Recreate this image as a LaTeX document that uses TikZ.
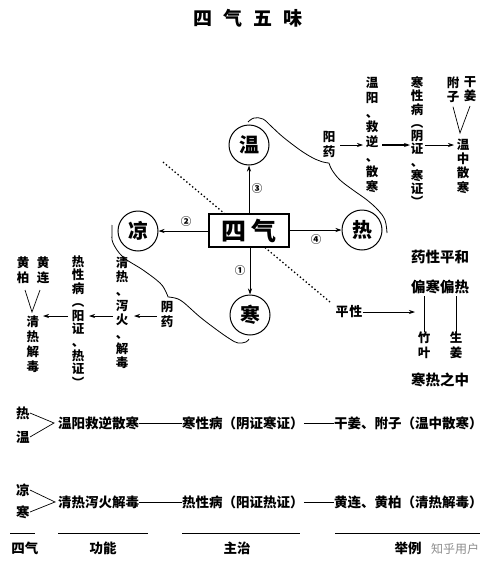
\documentclass[tikz,border=0pt]{standalone}
\usepackage{fontspec}
\newfontfamily\cjk{Noto Sans CJK SC}
\usetikzlibrary{arrows.meta,calc}
\newcommand\colf[1]{\cjk\bfseries\fontsize{12.5pt}{#1pt}\selectfont}
\tikzset{
  col/.style={inner sep=0pt, anchor=north, align=center},
  circ/.style={circle, draw, line width=1pt, minimum size=40pt, inner sep=0pt, font=\cjk\bfseries\fontsize{20pt}{20pt}\selectfont},
  arr/.style={line width=0.7pt, -{Stealth[length=6pt,width=4pt]}},
  lbl/.style={inner sep=0pt, font=\cjk\bfseries\fontsize{13.5pt}{14pt}\selectfont},
  num/.style={inner sep=0pt, font=\cjk\bfseries\fontsize{10.5pt}{10.5pt}\selectfont},
  ln/.style={line width=0.7pt},
  rule/.style={line width=1pt}
}
\begin{document}
\begin{tikzpicture}[x=1pt,y=-1pt]
\useasboundingbox (0,0) rectangle (500,573);
% title
\node[inner sep=0pt, font=\cjk\bfseries\fontsize{19pt}{19pt}\selectfont] (title) at (248,18) {四\hspace{11pt}气\hspace{11pt}五\hspace{11pt}味};
% dotted line behind box
\coordinate (d1) at (163,162);
\coordinate (d2) at (330,302);
\draw[line width=1.3pt, dash pattern=on 1.4pt off 2.4pt] (d1) -- (d2);
% central box
\node[draw, fill=white, line width=1.2pt, minimum width=80pt, minimum height=33pt, inner sep=0pt, font=\cjk\bfseries\fontsize{25pt}{25pt}\selectfont] (siqi) at (249,230.5) {四\hspace{5pt}气};
% circles
\node[circ] (wen) at (249,145) {温};
\node[circ] (liang) at (138,231) {凉};
\node[circ] (re) at (362,230) {热};
\node[circ] (han) at (250,315) {寒};
\draw[arr] (siqi.north -| wen) -- (wen.south);
\draw[arr] (siqi.west |- liang) -- (liang.east);
\draw[arr] (siqi.east |- re) -- (re.west);
\draw[arr] (siqi.south -| han) -- (han.north);
\node[num] (n3) at (257,189) {③};
\node[num] (n2) at (186,222) {②};
\node[num] (n4) at (316,240) {④};
\node[num] (n1) at (240,271) {①};
% upper brace curve
\draw[line width=0.8pt] plot[smooth, tension=0.6] coordinates {(248,122) (254,118) (263,119) (272,127) (283,137) (300,150) (313,158) (323,162) (329,163)}
  plot[smooth, tension=0.6] coordinates {(329,163) (332,170) (340,180) (353,190) (367,200) (378,210) (385,220) (387,233)};
% lower brace curve
\draw[line width=0.8pt] plot[smooth, tension=0.6] coordinates {(112,225) (112,233) (113,243) (123,257) (143,270) (160,283) (166,292) (168,297)}
  plot[smooth, tension=0.6] coordinates {(168,297) (175,298) (183,302) (200,317) (217,330) (230,339) (238,343) (246,342) (249,339)};
% right upper chain
\node[col, font=\colf{15}] (yangyao) at (329,131.5) {阳\\药};
\node[col, font=\colf{14.9}] (wenyang) at (372,76.5) {温\\阳\\、\\救\\逆\\、\\散\\寒};
\node[col, font=\colf{13.2}] (hanxing) at (417,76.5) {寒\\性\\病\\︵\\阴\\证\\、\\寒\\证\\︶};
\node[col, font=\colf{14}] (fuzi) at (453,76.5) {附\\子};
\node[col, font=\colf{14}] (ganjiang) at (470,76.5) {干\\姜};
\node[col, font=\colf{14.3}] (wenzhong) at (463,138.5) {温\\中\\散\\寒};
\coordinate (vt1) at (460,133);
\draw[ln] ($(fuzi.south)+(0,4)$) -- (vt1) -- ($(ganjiang.south)+(0,4)$);
\draw[arr] (340,145) -- (363,145);
\draw[line width=1.3pt, -{Stealth[length=6pt,width=4pt]}] (382,145) -- (410,145);
\draw[arr] (425,145) -- (454,145);
% left lower chain
\node[col, font=\colf{15}] (yinyao) at (167,301.5) {阴\\药};
\node[col, font=\colf{14.3}] (qingre) at (122,256.5) {清\\热\\、\\泻\\火\\、\\解\\毒};
\node[col, font=\colf{13.4}] (rexing) at (78,255.5) {热\\性\\病\\︵\\阳\\证\\、\\热\\证\\︶};
\node[col, font=\colf{15}] (qingjie) at (33,315.5) {清\\热\\解\\毒};
\node[col, font=\colf{15}] (huangbo) at (23,256.5) {黄\\柏};
\node[col, font=\colf{15}] (huanglian) at (43,256.5) {黄\\连};
\coordinate (vt2) at (32,312);
\draw[ln] (25,290) -- (vt2) -- (40,290);
\draw[arr] (157,316) -- (134,316);
\draw[arr] (113,316) -- (89,316);
\draw[arr] (68,316) -- (43,316);
% pinghe
\node[inner sep=0pt, font=\cjk\bfseries\fontsize{13pt}{13pt}\selectfont] (pingxing) at (349,312) {平\hspace{1pt}性};
\coordinate (pt) at (415,312);
\draw[arr] (pingxing.east) -- (pt);
\node[inner sep=0pt, font=\cjk\bfseries\fontsize{14.5pt}{15pt}\selectfont] (yxph) at (440,257) {药性平和};
\node[inner sep=0pt, font=\cjk\bfseries\fontsize{14.5pt}{15pt}\selectfont] (phpr) at (440,287) {偏寒偏热};
\node[col, font=\colf{15}] (zhuye) at (424,331.5) {竹\\叶};
\node[col, font=\colf{15}] (shengjiang) at (456,331.5) {生\\姜};
\draw[ln] (424,296) -- (zhuye.north);
\draw[ln] (456,296) -- (shengjiang.north);
\node[inner sep=0pt, font=\cjk\bfseries\fontsize{14.5pt}{15pt}\selectfont] (hrzz) at (440,380) {寒热之中};
% bottom table row 1
\node[lbl] (b1re) at (23,413) {热};
\node[lbl] (b1wen) at (23,437) {温};
\coordinate (b1tip) at (54,423);
\draw[ln] (b1re.east) -- (b1tip) -- (b1wen.east);
\node[lbl, anchor=west] (f1) at (58,423) {温阳救逆散寒};
\node[lbl, anchor=west] (z1) at (182,423) {寒性病（阴证寒证）};
\node[lbl, anchor=west] (e1) at (334,423) {干姜、附子（温中散寒）};
\draw[ln] (f1.east) -- (z1.west);
\draw[ln] (z1.east) -- (e1.west);
% row 2
\node[lbl] (b2liang) at (23,490) {凉};
\node[lbl] (b2han) at (23,512) {寒};
\coordinate (b2tip) at (55,502);
\draw[ln] (b2liang.east) -- (b2tip) -- (b2han.east);
\node[lbl, anchor=west] (f2) at (58,502) {清热泻火解毒};
\node[lbl, anchor=west] (z2) at (182,502) {热性病（阳证热证）};
\node[lbl, anchor=west] (e2) at (334,502) {黄连、黄柏（清热解毒）};
\draw[ln] (f2.east) -- (z2.west);
\draw[ln] (z2.east) -- (e2.west);
% header rules
\draw[rule] (10,533) -- (35,533);
\draw[rule] (58,533) -- (148,533);
\draw[rule] (182,533) -- (300,533);
\draw[rule] (335,533) -- (480,533);
\node[lbl] (hsiqi) at (25,548) {四气};
\node[lbl] (hgn) at (103,548) {功能};
\node[lbl] (hzz) at (237,548) {主治};
\node[lbl] (hjl) at (408,548) {举例};
\node[inner sep=0pt, text=black!45, font=\cjk\fontsize{12pt}{12pt}\selectfont] (wm) at (455,549) {知乎用户};
\end{tikzpicture}
\end{document}
